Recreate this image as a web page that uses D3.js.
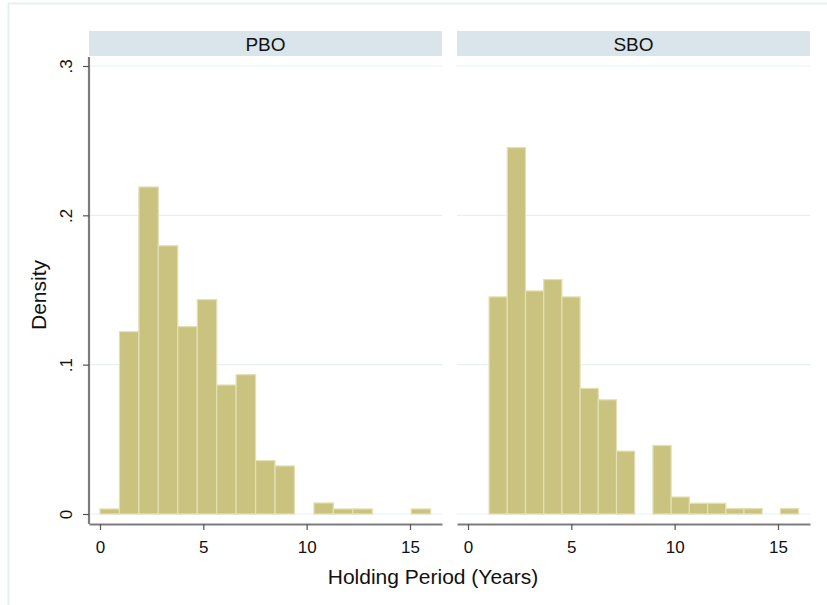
<!DOCTYPE html>
<html>
<head>
<meta charset="utf-8">
<script src="https://cdn.jsdelivr.net/npm/d3@7/dist/d3.min.js"></script>
<style>
  html, body { margin: 0; padding: 0; background: #fff; }
  svg { display: block; font-family: "Liberation Sans", Arial, sans-serif; }
</style>
</head>
<body>
<svg id="chart" width="827" height="605"></svg>
<script>
// Histogram densities of holding period (years), 17 equal-width bins per group
const panels = ["PBO", "SBO"];
const pboRange = [0, 16.0];
const sboRange = [1.02, 16.0];
const pboDensity = [0.0034, 0.1221, 0.2190, 0.1796, 0.1255, 0.1436, 0.0864, 0.0933, 0.0358, 0.0322, 0, 0.0074, 0.0034, 0.0034, 0, 0, 0.0034];
const sboDensity = [0.1454, 0.2454, 0.1494, 0.1570, 0.1454, 0.0841, 0.0765, 0.0421, 0, 0.0459, 0.0114, 0.0072, 0.0072, 0.0036, 0.0036, 0, 0.0036];
const xTicks = [0, 5, 10, 15];
const yTicks = [0, 0.1, 0.2, 0.3];
const yTickLabels = ["0", ".1", ".2", ".3"];

const FONT = "Liberation Sans, Arial, sans-serif";
const svg = d3.select("#chart");

// outer graph region frame
svg.append("rect")
  .attr("x", 8.5).attr("y", 3.5).attr("width", 830).attr("height", 610)
  .attr("fill", "#fff").attr("stroke", "#e6eff0").attr("stroke-width", 2);

const plotTop = 57, plotBottom = 524;
const panelLeft = [89, 457], panelWidth = 353;
const stripTop = 31;

const y = d3.scaleLinear().domain([0, 0.3]).range([514, 66]);

const binsFrom = (range, dens) => {
  const w = (range[1] - range[0]) / dens.length;
  return dens.map((d, i) => ({ x0: range[0] + i * w, x1: range[0] + (i + 1) * w, d }));
};
const data = [binsFrom(pboRange, pboDensity), binsFrom(sboRange, sboDensity)];

panels.forEach((name, p) => {
  const left = panelLeft[p];
  const x = d3.scaleLinear().domain([-0.532, 16.55]).range([left, left + panelWidth]);
  const g = svg.append("g");

  // strip header
  g.append("rect")
    .attr("x", left).attr("y", stripTop).attr("width", panelWidth).attr("height", plotTop - stripTop - 1)
    .attr("fill", "#d9e5eb");
  g.append("text")
    .attr("x", left + panelWidth / 2).attr("y", (stripTop + plotTop) / 2 + 6.5)
    .attr("text-anchor", "middle").attr("font-size", 19).attr("fill", "#111")
    .text(name);

  // horizontal grid lines
  g.selectAll(".grid").data(yTicks).join("line")
    .attr("x1", left).attr("x2", left + panelWidth)
    .attr("y1", d => y(d)).attr("y2", d => y(d))
    .attr("stroke", "#e8f1f2").attr("stroke-width", 1.2);

  // histogram bars
  g.selectAll(".bar").data(data[p].filter(b => b.d > 0)).join("rect")
    .attr("x", b => x(b.x0)).attr("width", b => x(b.x1) - x(b.x0))
    .attr("y", b => y(b.d)).attr("height", b => y(0) - y(b.d))
    .attr("fill", "#c9c37f").attr("stroke", "#e4e0b6").attr("stroke-width", 1.2);

  // x axis
  const xAxis = g.append("g").attr("transform", `translate(0,${plotBottom})`)
    .call(d3.axisBottom(x).tickValues(xTicks).tickFormat(d3.format("d")).tickSize(6).tickPadding(11).tickSizeOuter(0));
  xAxis.select(".domain").attr("stroke", "#7c7c7c").attr("stroke-width", 2.2);
  xAxis.selectAll(".tick line").attr("stroke", "#555").attr("stroke-width", 1.2);
  xAxis.selectAll(".tick text").attr("font-size", 17).attr("fill", "#111").attr("font-family", FONT);

  // y axis on the first panel only
  if (p === 0) {
    const yAxis = g.append("g").attr("transform", `translate(${left},0)`)
      .call(d3.axisLeft(y).tickValues(yTicks).tickFormat((d, i) => yTickLabels[i]).tickSize(6).tickSizeOuter(0));
    yAxis.select(".domain").attr("d", `M0,${plotTop}V${plotBottom}`).attr("stroke", "#7c7c7c").attr("stroke-width", 2.2);
    yAxis.selectAll(".tick line").attr("stroke", "#555").attr("stroke-width", 1.2);
    yAxis.selectAll(".tick text")
      .attr("font-size", 17).attr("fill", "#111").attr("font-family", FONT)
      .attr("text-anchor", "middle").attr("dy", 0)
      .attr("transform", "translate(-17,0) rotate(-90)")
      .attr("x", 0).attr("y", 0);
  }
});

// axis titles
svg.append("text")
  .attr("transform", "translate(46,295) rotate(-90)")
  .attr("text-anchor", "middle").attr("font-size", 21).attr("fill", "#111")
  .text("Density");
svg.append("text")
  .attr("x", 433).attr("y", 584)
  .attr("text-anchor", "middle").attr("font-size", 21).attr("fill", "#111")
  .text("Holding Period (Years)");
</script>
</body>
</html>
